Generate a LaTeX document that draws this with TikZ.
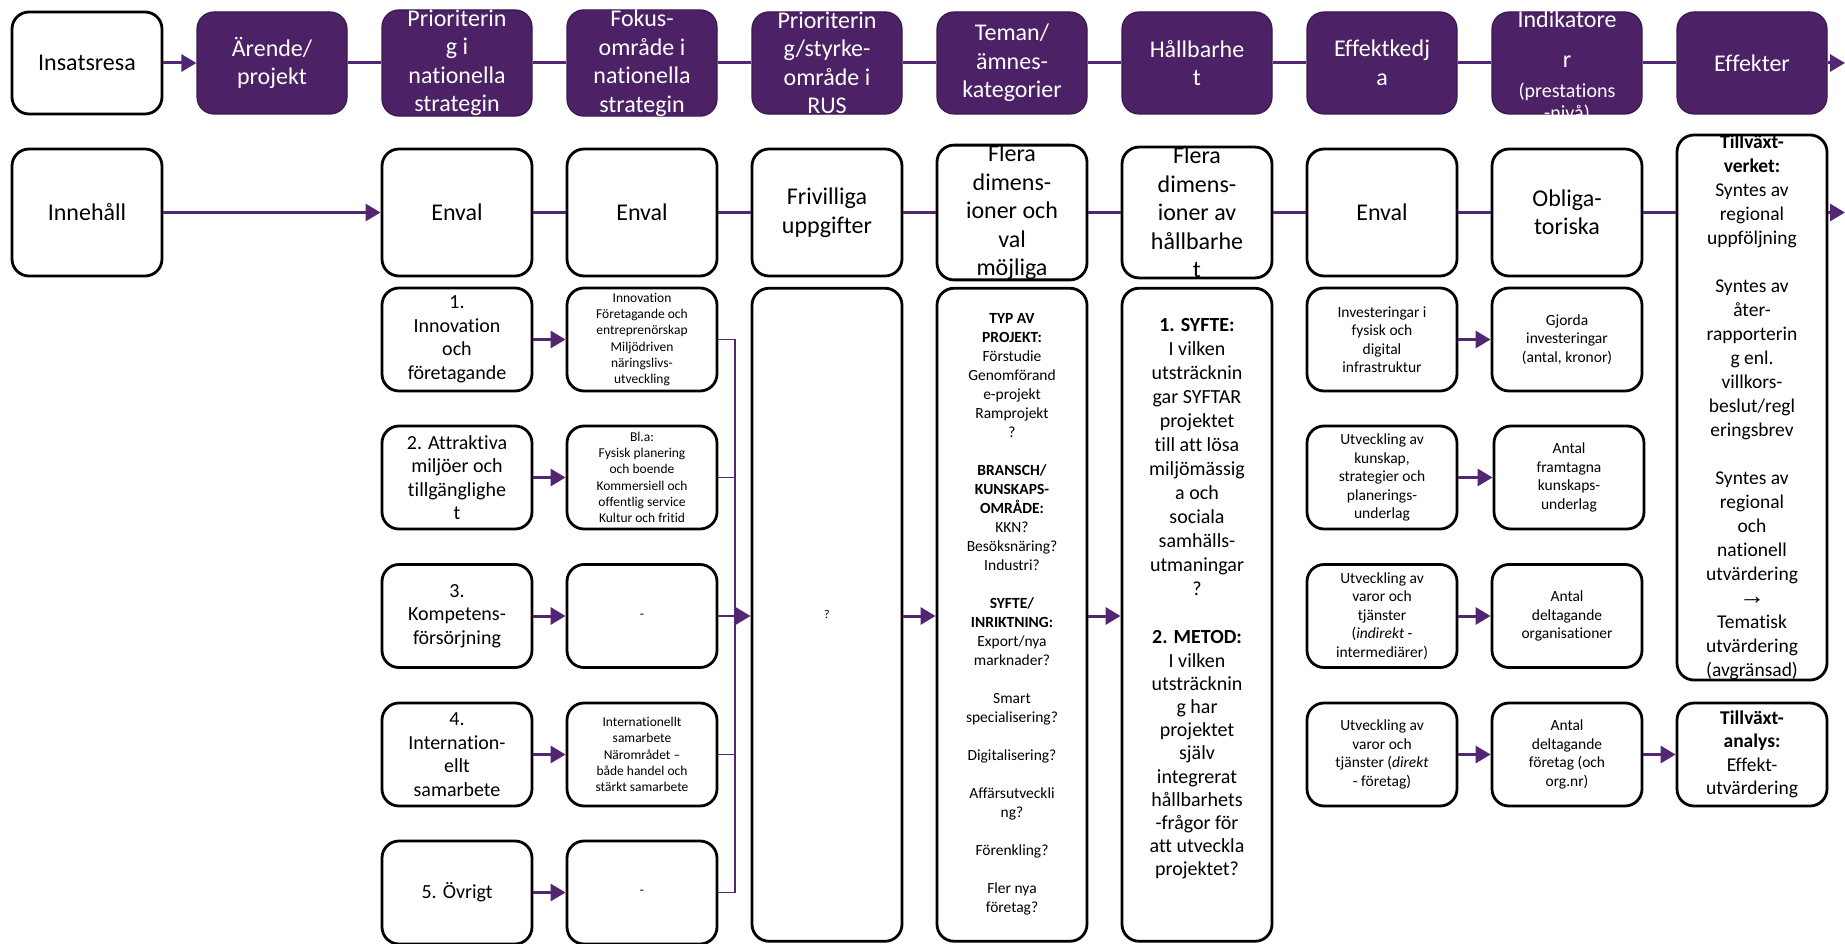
\documentclass[tikz,border=0pt]{standalone}
\usepackage{fontspec}
\setmainfont{Carlito}[Ligatures=NoCommon]
\newfontfamily\arrowfont{Liberation Sans}
\usetikzlibrary{arrows.meta}
\definecolor{vpurple}{RGB}{76,33,102}
\definecolor{vline}{RGB}{82,38,115}
\begin{document}
\begin{tikzpicture}[x=1pt,y=-1pt,
  base/.style={rectangle, rounded corners=17pt, minimum width=150pt, inner sep=0pt, align=center},
  headbox/.style={base, fill=vpurple, draw=vpurple!75!black, line width=1.2pt, text=white,
    minimum height=102pt, font=\fontsize{24}{28.5}\selectfont},
  plainbox/.style={base, draw=black, line width=2.8pt},
  startbox/.style={plainbox, minimum height=102pt, font=\fontsize{24}{28.5}\selectfont},
  rowbox/.style={plainbox, minimum height=127pt, font=\fontsize{24}{28.5}\selectfont},
  areabox/.style={plainbox, minimum height=103pt, font=\fontsize{20}{23.5}\selectfont},
  smallbox/.style={plainbox, minimum height=103pt, font=\fontsize{13.5}{16.3}\selectfont},
  chainbox/.style={plainbox, minimum height=103pt, font=\fontsize{15.5}{18.5}\selectfont},
  tallbox/.style={plainbox, minimum height=653pt},
  freetext/.style={inner sep=0pt, align=center},
  link/.style={draw=vline, line width=3pt},
  thinlink/.style={draw=vline, line width=1.3pt},
  arr/.style={link, -{Triangle[length=15pt,width=17pt]}}
]
\useasboundingbox (0,0) rectangle (1845,944);

% ---- row 1: steps of the journey
\node[startbox] (ins) at (87,63) {Insatsresa};
\node[headbox] (h1) at (272,63) {Ärende/\\projekt};
\node[headbox] (h2) at (457,63) {Prioriterin\\g i\\nationella\\strategin};
\node[headbox] (h3) at (642,63) {Fokus-\\område i\\nationella\\strategin};
\node[headbox] (h4) at (827,63) {Prioriterin\\g/styrke-\\område i\\RUS};
\node[headbox] (h5) at (1012,63) {Teman/\\ämnes-\\kategorier};
\node[headbox] (h6) at (1197,63) {Hållbarhe\\t};
\node[headbox] (h7) at (1382,63) {Effektkedj\\a};
\node[headbox] (h8) at (1567,63) {};
\node[freetext, text=white, font=\fontsize{24}{28.5}\selectfont] (h8text) at (1567,66.5)
  {Indikatore\\[12pt]r\\[1pt]{\fontsize{20}{24}\selectfont (prestations}\\[-6.5pt]{\fontsize{20}{24}\selectfont -nivå)}};
\node[headbox] (h9) at (1752,63) {Effekter};
\coordinate (endA) at (1845,63);

\draw[arr] (ins) -- (h1);
\draw[link] (h1) -- (h2);
\draw[link] (h2) -- (h3);
\draw[link] (h3) -- (h4);
\draw[link] (h4) -- (h5);
\draw[link] (h5) -- (h6);
\draw[link] (h6) -- (h7);
\draw[link] (h7) -- (h8);
\draw[link] (h8) -- (h9);
\draw[arr] (h9) -- (endA);

% ---- row 2: content
\node[rowbox] (inn) at (87,212.5) {Innehåll};
\node[rowbox] (r2) at (457,212.5) {Enval};
\node[rowbox] (r3) at (642,212.5) {Enval};
\node[rowbox] (r4) at (827,212.5) {Frivilliga\\uppgifter};
\node[rowbox] (r5) at (1012,212.5) {Flera\\dimens-\\ioner och\\val\\möjliga};
\node[rowbox] (r6) at (1197,212.5) {Flera\\dimens-\\ioner av\\hållbarhe\\t};
\node[rowbox] (r7) at (1382,212.5) {Enval};
\node[rowbox] (r8) at (1567,212.5) {Obliga-\\toriska};
\node[plainbox, minimum height=515pt, font=\fontsize{19.5}{24}\selectfont] (r9) at (1752,407.5)
  {\textbf{Tillväxt-}\\\textbf{verket:}\\Syntes av\\regional\\uppföljning\\[24pt]Syntes av\\åter-\\rapporterin\\g enl.\\villkors-\\beslut/regl\\eringsbrev\\[24pt]Syntes av\\regional\\och\\nationell\\utvärdering\\{\arrowfont\fontsize{26}{24}\selectfont →}\\Tematisk\\utvärdering\\(avgränsad)};
\coordinate (endB) at (1845,212.5);

\draw[arr] (inn) -- (r2);
\draw[link] (r2) -- (r3);
\draw[link] (r3) -- (r4);
\draw[link] (r4) -- (r5);
\draw[link] (r5) -- (r6);
\draw[link] (r6) -- (r7);
\draw[link] (r7) -- (r8);
\draw[link] (r8) -- (r8 -| r9.west);
\draw[arr] (r9.east |- r8) -- (endB);

% ---- national strategy areas
\node[areabox] (a1) at (457,339.5) {1.\\Innovation\\och\\företagande};
\node[areabox] (a2) at (457,477.5) {2. Attraktiva\\miljöer och\\tillgänglighe\\t};
\node[areabox] (a3) at (457,616) {3.\\Kompetens-\\försörjning};
\node[areabox] (a4) at (457,754.5) {4.\\Internation-\\ellt\\samarbete};
\node[areabox] (a5) at (457,892.5) {5. Övrigt};

\node[smallbox] (b1) at (642,339.5) {Innovation\\Företagande och\\entreprenörskap\\Miljödriven\\näringslivs-\\utveckling};
\node[smallbox] (b2) at (642,477.5) {Bl.a:\\Fysisk planering\\och boende\\Kommersiell och\\offentlig service\\Kultur och fritid};
\node[smallbox] (b3) at (642,616) {-};
\node[smallbox] (b4) at (642,754.5) {Internationellt\\samarbete\\Närområdet –\\både handel och\\stärkt samarbete};
\node[smallbox] (b5) at (642,892.5) {-};

\foreach \k in {1,...,5} { \draw[arr] (a\k) -- (b\k); }

% collecting bus into the tall boxes
\coordinate (bus) at (735,616);
\foreach \k in {1,2,4,5} { \draw[thinlink] (b\k.east) -| (bus); }
\draw[thinlink] (b3) -- (bus);

\node[tallbox, font=\fontsize{12}{14}\selectfont] (q) at (827,614.75) {?};
\node[tallbox, font=\fontsize{15.5}{19}\selectfont] (t) at (1012,614.75)
  {\textbf{TYP AV}\\\textbf{PROJEKT:}\\Förstudie\\Genomförand\\e-projekt\\Ramprojekt\\?\\[19pt]\textbf{BRANSCH/}\\\textbf{KUNSKAPS-}\\\textbf{OMRÅDE:}\\KKN?\\Besöksnäring?\\Industri?\\[19pt]\textbf{SYFTE/}\\\textbf{INRIKTNING:}\\Export/nya\\marknader?\\[19pt]Smart\\specialisering?\\[19pt]Digitalisering?\\[19pt]Affärsutveckli\\ng?\\[19pt]Förenkling?\\[19pt]Fler nya\\företag?};
\node[tallbox] (s) at (1197,614.75) {};
\node[freetext, font=\fontsize{20}{24}\selectfont] (stext) at (1197,599)
  {\textbf{1. SYFTE:}\\I vilken\\utsträcknin\\gar SYFTAR\\projektet\\till att lösa\\miljömässig\\a och\\sociala\\samhälls-\\utmaningar\\?\\[24pt]\textbf{2. METOD:}\\[-0.8pt]I vilken\\[-0.8pt]utsträcknin\\[-0.8pt]g har\\[-0.8pt]projektet\\[-0.8pt]själv\\[-0.8pt]integrerat\\[-0.8pt]hållbarhets\\[-0.8pt]-frågor för\\[-0.8pt]att utveckla\\[-0.8pt]projektet?};

\draw[arr] (bus) -- (q.west |- bus);
\draw[arr] (q.east |- bus) -- (t.west |- bus);
\draw[arr] (t.east |- bus) -- (s.west |- bus);

% ---- effect chain and indicators
\node[chainbox] (e1) at (1382,339.5) {Investeringar i\\fysisk och\\digital\\infrastruktur};
\node[chainbox] (e2) at (1382,477.5) {Utveckling av\\kunskap,\\strategier och\\planerings-\\underlag};
\node[chainbox] (e3) at (1382,616) {Utveckling av\\varor och\\tjänster\\(\textit{indirekt} -\\intermediärer)};
\node[chainbox] (e4) at (1382,754.5) {Utveckling av\\varor och\\tjänster (\textit{direkt}\\- företag)};

\node[chainbox] (f1) at (1567,339.5) {Gjorda\\investeringar\\(antal, kronor)};
\node[chainbox] (f2) at (1569,477.5) {Antal\\framtagna\\kunskaps-\\underlag};
\node[chainbox] (f3) at (1567,616) {Antal\\deltagande\\organisationer};
\node[chainbox] (f4) at (1567,754.5) {Antal\\deltagande\\företag (och\\org.nr)};

\foreach \k in {1,...,4} { \draw[arr] (e\k) -- (f\k); }

\node[areabox, font=\fontsize{19.5}{23.5}\selectfont] (g4) at (1752,754.5) {\textbf{Tillväxt-}\\\textbf{analys:}\\Effekt-\\utvärdering};
\draw[arr] (f4) -- (g4);

\end{tikzpicture}
\end{document}
